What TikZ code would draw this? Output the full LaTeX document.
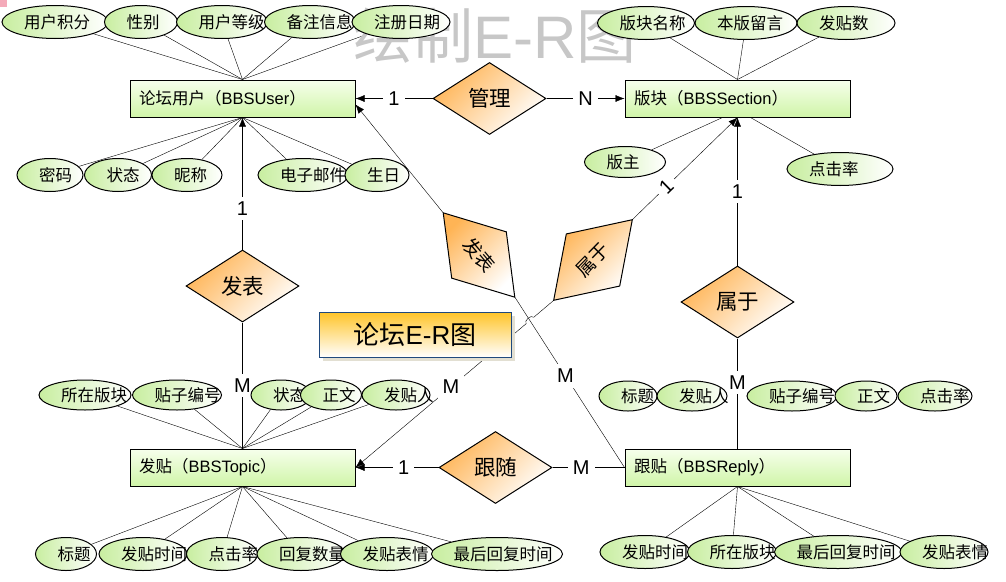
\documentclass[tikz,border=0pt]{standalone}
\usepackage{fontspec}
\setmainfont{Noto Sans CJK SC}
\newfontfamily\latin{Liberation Sans}
\usepackage{tikz}
\usetikzlibrary{arrows.meta,positioning,calc,shapes.geometric,shadows,backgrounds}

\definecolor{entgreen}{RGB}{208,245,168}
\definecolor{entlight}{RGB}{246,255,236}
\definecolor{attgreen}{RGB}{200,238,160}
\definecolor{relorange}{RGB}{255,180,85}
\definecolor{titlegold}{RGB}{255,196,40}
\definecolor{titleblue}{RGB}{31,73,125}
\definecolor{shadowtan}{RGB}{226,223,210}
\definecolor{markpink}{RGB}{244,170,185}

\begin{document}
\begin{tikzpicture}
    [x=1pt,y=-1pt,line width=1pt,>={Latex[length=9pt,width=7pt]},
     entity/.style={rectangle,draw=black,minimum width=225pt,minimum height=37pt,text width=207pt,inner xsep=9pt,align=left,top color=entlight,bottom color=entgreen,font=\fontsize{16.5}{16.5}\selectfont},
     attr/.style={ellipse,draw=black,inner sep=0pt,minimum height=33pt,left color=attgreen,right color=white,label={[atext]west:#1}},
     atext/.style={anchor=west,inner sep=0pt,xshift=22pt,font=\fontsize{16.5}{16.5}\selectfont},
     rel/.style={diamond,draw=black,inner sep=0pt,minimum width=113pt,minimum height=72pt,top color=relorange,bottom color=white,shading angle=45,font=\fontsize{21.5}{21.5}\selectfont},
     card/.style={fill=white,inner sep=5pt,font=\latin\fontsize{20}{20}\selectfont}]
    \useasboundingbox (0,0) rectangle (1006,581);
    \fill[markpink] (0,0) rectangle (7,7);
    \node[text=black!22,font=\fontsize{60}{60}\selectfont] (wm) at (495,36) {绘制{\latin E-R}图};

    % entities and relations
    \node[entity] (user) at (242.5,98.5) {论坛用户（{\latin BBSUser}）};
    \node[rel,right=77pt of user] (gl) {管理};
    \node[entity,right=78pt of gl] (sec) {版块（{\latin BBSSection}）};
    \node[rel,below=132pt of user] (fb1) {发表};
    \node[entity,below=126pt of fb1] (topic) {发贴（{\latin BBSTopic}）};
    \node[rel,below=148pt of sec] (sy1) {属于};
    \node[entity,below=110pt of sy1] (reply) {跟贴（{\latin BBSReply}）};
    \node[rel,right=83pt of topic] (gs) {跟随};
    \node[rel,rotate=-49.7,minimum width=111pt,font=\fontsize{19}{19}\selectfont] (fb2) at (479,255) {发表};
    \node[rel,rotate=45.7,minimum height=75pt,font=\fontsize{19}{19}\selectfont] (sy2) at (593,260) {属于};

    % BBSUser attributes
    \node[attr=用户积分,minimum width=106pt] (u1) at (55,22) {};
    \node[attr=性别,minimum width=73pt] (u2) at (141,22) {};
    \node[attr=用户等级,minimum width=91pt] (u3) at (222,22) {};
    \node[attr=备注信息,minimum width=91pt] (u4) at (310,22) {};
    \node[attr=注册日期,minimum width=98pt] (u5) at (401,22) {};
    \node[attr=密码,minimum width=66pt] (u6) at (50,175) {};
    \node[attr=状态,minimum width=67pt] (u7) at (118,175) {};
    \node[attr=昵称,minimum width=70pt] (u8) at (187,175) {};
    \node[attr=电子邮件,minimum width=90pt] (u9) at (303,175) {};
    \node[attr=生日,minimum width=64pt] (u10) at (377,175) {};

    % BBSSection attributes
    \node[attr=版块名称,minimum width=97pt] (s1) at (646,23) {};
    \node[attr=本版留言,minimum width=102pt] (s2) at (746,23) {};
    \node[attr=发贴数,minimum width=98pt] (s3) at (846,23) {};
    \node[attr=版主,minimum width=81pt,minimum height=31pt] (s4) at (625,162) {};
    \node[attr=点击率,minimum width=106pt] (s5) at (840,169) {};

    % BBSTopic attributes
    \node[attr=所在版块,minimum width=92pt,minimum height=30pt] (t1) at (85,395) {};
    \node[attr=贴子编号,minimum width=89pt,minimum height=30pt] (t2) at (177,395) {};
    \node[attr=状态,minimum width=60pt,minimum height=30pt] (t3) at (281,395) {};
    \node[attr=正文,minimum width=61pt,minimum height=30pt] (t4) at (331,395) {};
    \node[attr=发贴人,minimum width=68pt,minimum height=30pt] (t5) at (396,395) {};
    \node[attr=标题,minimum width=61pt] (t6) at (66,554) {};
    \node[attr=发贴时间,minimum width=88pt] (t7) at (143,554) {};
    \node[attr=点击率,minimum width=71pt] (t8) at (222,554) {};
    \node[attr=回复数量,minimum width=88pt] (t9) at (301,554) {};
    \node[attr=发贴表情,minimum width=93pt] (t10) at (387,554) {};
    \node[attr=最后回复时间,minimum width=131pt] (t11) at (497,554) {};

    % BBSReply attributes
    \node[attr=标题,minimum width=58pt,minimum height=30pt] (r1) at (628,396) {};
    \node[attr=发贴人,minimum width=70pt,minimum height=30pt] (r2) at (692,396) {};
    \node[attr=贴子编号,minimum width=90pt,minimum height=30pt] (r3) at (792,396) {};
    \node[attr=正文,minimum width=62pt,minimum height=30pt] (r4) at (866,396) {};
    \node[attr=点击率,minimum width=74pt,minimum height=30pt] (r5) at (935,396) {};
    \node[attr=发贴时间,minimum width=90pt] (r6) at (645,552) {};
    \node[attr=所在版块,minimum width=89pt] (r7) at (732,552) {};
    \node[attr=最后回复时间,minimum width=127pt] (r8) at (838,552) {};
    \node[attr=发贴表情,minimum width=88pt] (r9) at (944,552) {};

    \node[draw=titleblue,top color=titlegold,bottom color=white,minimum width=192pt,minimum height=45pt,font=\fontsize{26}{26}\selectfont,
          drop shadow={shadow xshift=4pt,shadow yshift=-4pt,fill=shadowtan,opacity=1}] (title) at (415,334.5) {论坛{\latin E-R}图};

    \begin{scope}[on background layer]
    % attribute lines
    \draw (user.north) edge (u1) edge (u2) edge (u3) edge (u4) edge (u5);
    \draw (user.south) edge (u6) edge (u7) edge (u8) edge (u9) edge (u10);
    \draw (sec.north) edge (s1) edge (s2) edge (s3);
    \draw ([xshift=-15pt]sec.south) -- (s4);
    \draw ([xshift=13pt]sec.south) -- (s5);
    \draw (topic.north) edge (t1) edge (t2) edge (t3) edge (t4) edge (t5);
    \draw (topic.south) edge (t6) edge (t7) edge (t8) edge (t9) edge (t10) edge (t11);
    \draw (reply.south) edge (r6) edge (r7) edge (r8) edge (r9);

    % relation lines
    \draw[->] (gl) -- node[card]{1} (user);
    \draw[->] (gl) -- node[card]{N} (sec);
    \draw[->] (fb1) -- node[card,pos=.31]{1} (user);
    \draw (fb1) -- node[card]{M} (topic);
    \draw[->] (sy1) -- node[card]{1} (sec);
    \draw (sy1) -- node[card,pos=.4]{M} (reply);
    \draw[->] (gs) -- node[card,pos=.42]{1} (topic);
    \draw (gs) -- node[card,pos=.4]{M} (reply);
    \draw[->] (fb2.west) -- ([yshift=-6pt]user.east);
    \draw (fb2.east) -- node[card,pos=.46]{M} (reply.west);
    \draw[->] (sy2.east) -- node[card,sloped,pos=.32]{1} (sec.south);
    \coordinate (hop) at (intersection of sy2.west--topic.east and fb2.east--reply.west);
    \coordinate (hopa) at ($(hop)!5pt!(sy2.west)$);
    \coordinate (hopb) at ($(hop)!5pt!(topic.east)$);
    \draw[->] (sy2.west) -- (hopa) to[bend right=90] (hopb) -- node[card,pos=.44]{M} (topic.east);
    \end{scope}
\end{tikzpicture}
\end{document}
